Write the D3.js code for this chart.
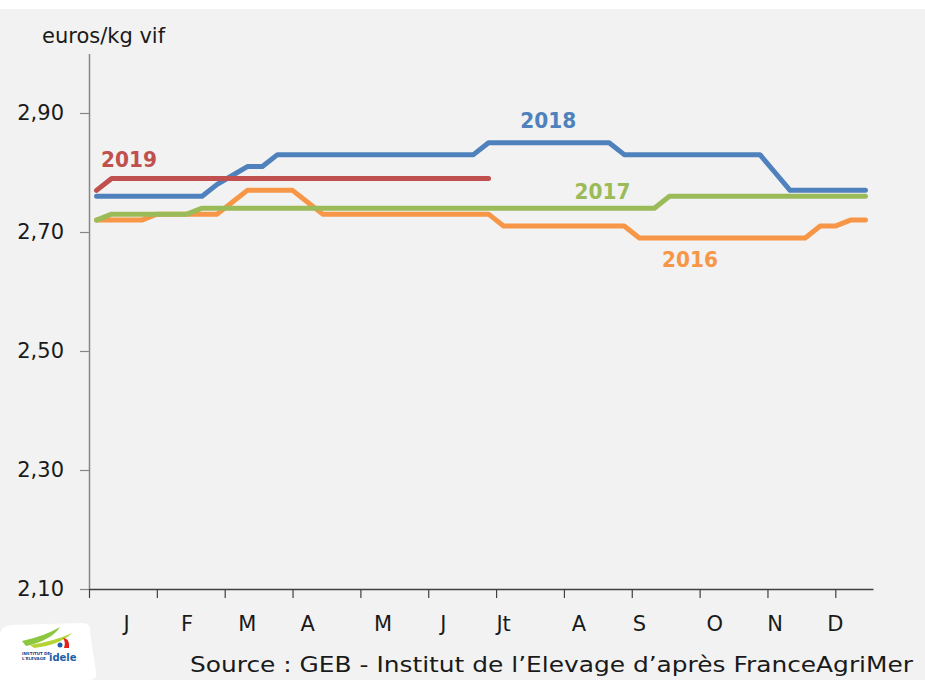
<!DOCTYPE html>
<html>
<head>
<meta http-equiv="Content-Type" content="text/html;charset=utf-8">
<script type="text/javascript" src="https://d3js.org/d3.v7.min.js"></script>
<style>
  body { margin: 0; background: #f2f2f2; }
  text { font-family: "DejaVu Sans", sans-serif; }
</style>
</head>
<body>
<div id="chart"></div>
<script type="text/javascript">

// weekly prices, euros/kg vif, 52 weeks (2019 : first 27 weeks)
var s2016 = [2.72,2.72,2.72,2.72,2.73,2.73,2.73,2.73,2.73,2.75,2.77,2.77,2.77,2.77,2.75,
  2.73,2.73,2.73,2.73,2.73,2.73,2.73,2.73,2.73,2.73,2.73,2.73,
  2.71,2.71,2.71,2.71,2.71,2.71,2.71,2.71,2.71,
  2.69,2.69,2.69,2.69,2.69,2.69,2.69,2.69,2.69,2.69,2.69,2.69,
  2.71,2.71,2.72,2.72];
var s2017 = [2.72,2.73,2.73,2.73,2.73,2.73,2.73,
  2.74,2.74,2.74,2.74,2.74,2.74,2.74,2.74,2.74,2.74,2.74,2.74,2.74,2.74,2.74,2.74,
  2.74,2.74,2.74,2.74,2.74,2.74,2.74,2.74,2.74,2.74,2.74,2.74,2.74,2.74,2.74,
  2.76,2.76,2.76,2.76,2.76,2.76,2.76,2.76,2.76,2.76,2.76,2.76,2.76,2.76];
var s2018 = [2.76,2.76,2.76,2.76,2.76,2.76,2.76,2.76,2.78,2.795,2.81,2.81,
  2.83,2.83,2.83,2.83,2.83,2.83,2.83,2.83,2.83,2.83,2.83,2.83,2.83,2.83,
  2.85,2.85,2.85,2.85,2.85,2.85,2.85,2.85,2.85,
  2.83,2.83,2.83,2.83,2.83,2.83,2.83,2.83,2.83,2.83,
  2.80,2.77,2.77,2.77,2.77,2.77,2.77];
var s2019 = [2.77,2.79,2.79,2.79,2.79,2.79,2.79,2.79,2.79,2.79,2.79,2.79,2.79,2.79,
  2.79,2.79,2.79,2.79,2.79,2.79,2.79,2.79,2.79,2.79,2.79,2.79,2.79];

var years = ["2016", "2017", "2018", "2019"];
var months = ["J","F","M","A","M","J","Jt","A","S","O","N","D"];
var monthWeeks = [2,6,10,14,19,23,27,32,36,41,45,49];
var yTicks = [2.10, 2.30, 2.50, 2.70, 2.90];

var series = [s2016, s2017, s2018, s2019];
var colors = ["#f79646", "#9bbb59", "#4f81bd", "#c0504d"];
// label anchors (week, value)
var labelAt = [[37.5, 2.641], [31.7, 2.755], [28.1, 2.875], [0.3, 2.809]];

var width = 925, height = 680;

var svg = d3.select("#chart").append("svg")
    .attr("width", width)
    .attr("height", height);

svg.append("rect").attr("width", width).attr("height", height).attr("fill", "#fff");
svg.append("rect").attr("y", 9).attr("width", width).attr("height", height - 9).attr("fill", "#f2f2f2");

var x = d3.scaleLinear().domain([0, 52]).range([89, 873]);
var y = d3.scaleLinear().domain([2.1, 3.0]).range([589, 53.5]);

var comma = d3.formatLocale({decimal: ",", thousands: " ", grouping: [3], currency: ["", "€"]}).format(".2f");

// y axis
var yAxis = svg.append("g")
    .attr("transform", "translate(89,0)")
    .call(d3.axisLeft(y).tickValues(yTicks).tickFormat(comma).tickSize(9).tickPadding(16).tickSizeOuter(0));
yAxis.select(".domain").attr("stroke", "#868686").attr("stroke-width", 1.5);
yAxis.selectAll(".tick line").attr("stroke", "#868686").attr("stroke-width", 1.2);
yAxis.selectAll(".tick text")
    .attr("fill", "#1a1a1a")
    .style("font-size", "21px")
    .style("font-family", "DejaVu Sans, sans-serif");

// x axis
var xTicks = d3.range(0, 50, 4.5);
var xAxis = svg.append("g")
    .attr("transform", "translate(0,589)")
    .call(d3.axisBottom(x).tickValues(xTicks).tickFormat("").tickSize(9).tickSizeOuter(0));
xAxis.select(".domain").attr("stroke", "#404040").attr("stroke-width", 1.5);
xAxis.selectAll(".tick line").attr("stroke", "#404040").attr("stroke-width", 1.2);

svg.append("g").selectAll("text")
    .data(months)
    .enter().append("text")
    .attr("x", function (d, i) { return x(monthWeeks[i] + 0.5); })
    .attr("y", 631)
    .attr("text-anchor", "middle")
    .attr("fill", "#1a1a1a")
    .style("font-size", "21px")
    .text(function (d) { return d; });

svg.append("text")
    .attr("x", 42)
    .attr("y", 43)
    .attr("fill", "#1a1a1a")
    .style("font-size", "21px")
    .text("euros/kg vif");

// lines
var line = d3.line()
    .x(function (d, i) { return x(i + 0.5); })
    .y(function (d) { return y(d); });

svg.append("g").selectAll("path")
    .data(series)
    .enter().append("path")
    .attr("d", line)
    .attr("fill", "none")
    .attr("stroke", function (d, i) { return colors[i]; })
    .attr("stroke-width", 5)
    .attr("stroke-linejoin", "round")
    .attr("stroke-linecap", "round");

svg.append("g").selectAll("text")
    .data(years)
    .enter().append("text")
    .attr("x", function (d, i) { return x(labelAt[i][0] + 0.5); })
    .attr("y", function (d, i) { return y(labelAt[i][1]); })
    .attr("fill", function (d, i) { return colors[i]; })
    .style("font-size", "21px")
    .style("font-weight", "bold")
    .attr("textLength", 56)
    .attr("lengthAdjust", "spacingAndGlyphs")
    .text(function (d) { return d; });

// source
svg.append("text")
    .attr("x", 190)
    .attr("y", 672)
    .attr("fill", "#1a1a1a")
    .style("font-size", "22px")
    .attr("textLength", 723)
    .attr("lengthAdjust", "spacingAndGlyphs")
    .text("Source : GEB - Institut de l\u2019Elevage d\u2019apr\u00e8s FranceAgriMer");

// idele logo (rough)
var logo = svg.append("g");
logo.append("path")
    .attr("d", "M0,636 Q0,626 12,625 L82,623 Q92,623 90,633 L96,672 Q98,680 88,680 L0,680 Z")
    .attr("fill", "#fff");
logo.append("path")
    .attr("d", "M22,641 Q45,636 60,627 Q52,640 26,646 Z")
    .attr("fill", "#8dc63f");
logo.append("path")
    .attr("d", "M30,645 Q55,641 72,633 Q60,645 34,648 Z")
    .attr("fill", "#b5d334");
logo.append("path")
    .attr("d", "M63,638 Q70,638 69,648 L64,648 Q66,642 63,638 Z")
    .attr("fill", "#e2231a");
logo.append("circle").attr("cx", 60).attr("cy", 645).attr("r", 2.5).attr("fill", "#1d5fa8");
logo.append("text")
    .attr("x", 22).attr("y", 655)
    .attr("fill", "#1d3f8a")
    .style("font-size", "4px")
    .style("font-weight", "bold")
    .text("INSTITUT DE");
logo.append("text")
    .attr("x", 22).attr("y", 660)
    .attr("fill", "#1d3f8a")
    .style("font-size", "4px")
    .style("font-weight", "bold")
    .text("L'ELEVAGE");
logo.append("text")
    .attr("x", 49).attr("y", 661)
    .attr("fill", "#1d5fa8")
    .style("font-size", "10px")
    .style("font-weight", "bold")
    .text("idele");

</script>
</body>
</html>
